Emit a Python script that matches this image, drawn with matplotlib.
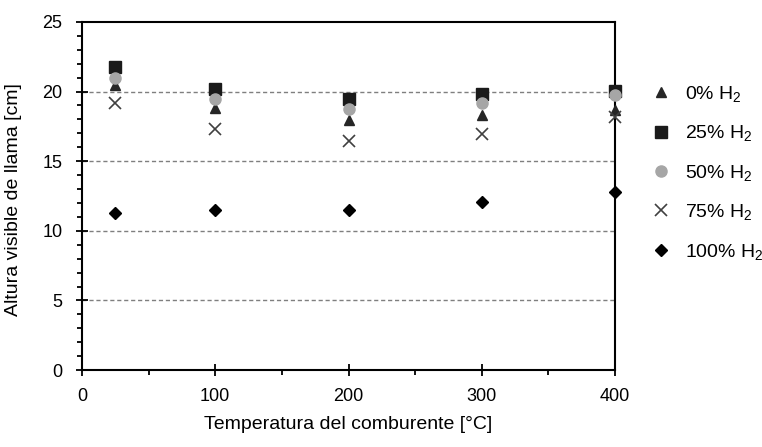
import matplotlib
matplotlib.use("Agg")
import matplotlib.pyplot as plt
from matplotlib.ticker import MultipleLocator

plt.rcParams['font.family'] = ['Liberation Sans', 'DejaVu Sans']
plt.rcParams['mathtext.fontset'] = 'custom'
plt.rcParams['mathtext.rm'] = 'Liberation Sans'
plt.rcParams['mathtext.it'] = 'Liberation Sans'

temperature = [25, 100, 200, 300, 400]
h2_0 = [20.5, 18.8, 17.95, 18.3, 18.65]
h2_25 = [21.75, 20.2, 19.45, 19.8, 20.05]
h2_50 = [21.0, 19.45, 18.75, 19.2, 19.75]
h2_75 = [19.2, 17.3, 16.45, 16.95, 18.2]
h2_100 = [11.25, 11.5, 11.5, 12.1, 12.8]
labels = ['0% H$_2$', '25% H$_2$', '50% H$_2$', '75% H$_2$', '100% H$_2$']

TICK_FS = 13
LABEL_FS = 14

fig = plt.figure(figsize=(7.62, 4.47), dpi=100)
ax = fig.add_axes([0.1076, 0.172, 0.6995, 0.779])

for g in [5, 10, 15, 20]:
    ax.axhline(g, color='#7f7f7f', linestyle=(0, (3, 2)), linewidth=1.0, zorder=1)

styles = [
    dict(marker='^', color='#262626', ms=7),
    dict(marker='s', color='#1a1a1a', ms=8.5),
    dict(marker='o', color='#a6a6a6', ms=8),
    dict(marker='x', color='#404040', ms=8.5, mew=1.2),
    dict(marker='D', color='#000000', ms=6.5),
]
series = [h2_0, h2_25, h2_50, h2_75, h2_100]
for vals, lab, st in zip(series, labels, styles):
    ax.plot(temperature, vals, linestyle='none', marker=st['marker'], color=st['color'],
            markersize=st['ms'], markeredgewidth=st.get('mew', 1.0), label=lab,
            zorder=3, clip_on=False)

ax.set_xlim(0, 400)
ax.set_ylim(0, 25)
ax.xaxis.set_major_locator(MultipleLocator(100))
ax.xaxis.set_minor_locator(MultipleLocator(50))
ax.yaxis.set_major_locator(MultipleLocator(5))
ax.yaxis.set_minor_locator(MultipleLocator(1))
ax.tick_params(which='major', direction='inout', length=8, width=1.3, labelsize=TICK_FS)
ax.tick_params(axis='y', which='major', pad=10)
ax.tick_params(axis='x', which='major', pad=9)
ax.tick_params(which='minor', direction='out', length=3.6, width=1.3)
for s in ['left', 'bottom', 'right', 'top']:
    ax.spines[s].set_linewidth(1.5)

ax.set_xlabel('Temperatura del comburente [°C]', fontsize=LABEL_FS)
ax.set_ylabel('Altura visible de llama [cm]', fontsize=LABEL_FS)
ax.xaxis.set_label_coords(0.5, -0.132)
ax.yaxis.set_label_coords(-0.113, 0.49)

leg = ax.legend(loc='upper left', bbox_to_anchor=(1.064, 0.822), frameon=False,
                fontsize=LABEL_FS, handletextpad=0.64, labelspacing=1.0, handlelength=1.2,
                borderaxespad=0, borderpad=0)

fig.savefig('out.png', dpi=100)
